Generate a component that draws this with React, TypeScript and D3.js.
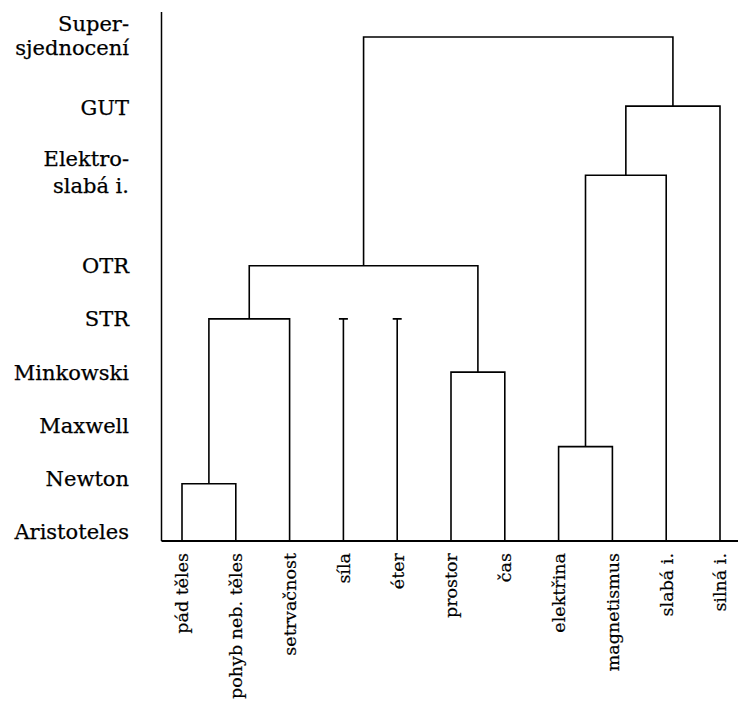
import React from "react";
import * as d3 from "d3";

const leaves = [
  "pád těles",
  "pohyb neb. těles",
  "setrvačnost",
  "síla",
  "éter",
  "prostor",
  "čas",
  "elektřina",
  "magnetismus",
  "slabá i.",
  "silná i.",
];

const levelNames = [
  ["Aristoteles"],
  ["Newton"],
  ["Maxwell"],
  ["Minkowski"],
  ["STR"],
  ["OTR"],
  ["Elektro-", "slabá i."],
  ["GUT"],
  ["Super-", "sjednocení"],
];
const levelValues = [0, 1, 2, 3, 4, 5, 6.76, 7.97, 9.32];

const mergeIds = ["n1", "n2", "n3", "n4", "n5", "n6", "n7", "n8"];
const mergeChildren = [
  ["pád těles", "pohyb neb. těles"],
  ["n1", "setrvačnost"],
  ["prostor", "čas"],
  ["n2", "n3"],
  ["elektřina", "magnetismus"],
  ["n5", "slabá i."],
  ["n6", "silná i."],
  ["n4", "n7"],
];
const mergeHeights = [0.9, 4, 3, 5, 1.6, 6.7, 8, 9.3];

const stemLeaves = ["síla", "éter"];
const stemHeights = [4, 4];

const W = 738;
const H = 706;
const FONT = "'DejaVu Serif', 'Liberation Serif', serif";

export default function App() {
  const x = d3.scalePoint<string>().domain(leaves).range([182, 720]);
  const y = d3.scaleLinear().domain([-0.175, 9.77]).range([541, 12]);

  const nodeX = new Map<string, number>();
  const nodeH = new Map<string, number>();
  leaves.forEach((l) => {
    nodeX.set(l, x(l) as number);
    nodeH.set(l, -0.175);
  });
  mergeIds.forEach((id, i) => {
    const [a, b] = mergeChildren[i];
    nodeX.set(id, ((nodeX.get(a) as number) + (nodeX.get(b) as number)) / 2);
    nodeH.set(id, mergeHeights[i]);
  });

  const paths: string[] = [];
  mergeIds.forEach((id, i) => {
    const [a, b] = mergeChildren[i];
    const h = y(mergeHeights[i]);
    const p = d3.path();
    p.moveTo(nodeX.get(a) as number, y(nodeH.get(a) as number));
    p.lineTo(nodeX.get(a) as number, h);
    p.lineTo(nodeX.get(b) as number, h);
    p.lineTo(nodeX.get(b) as number, y(nodeH.get(b) as number));
    paths.push(p.toString());
  });
  stemLeaves.forEach((l, i) => {
    const cx = x(l) as number;
    const p = d3.path();
    p.moveTo(cx, y(-0.175));
    p.lineTo(cx, y(stemHeights[i]));
    p.moveTo(cx - 4.5, y(stemHeights[i]));
    p.lineTo(cx + 4.5, y(stemHeights[i]));
    paths.push(p.toString());
  });

  const axisX = 161.5;
  const lineHeights = [0, 0, 0, 0, 0, 0, 27, 0, 24];

  return (
    <svg
      width={W}
      height={H}
      style={{ position: "absolute", left: 0, top: 0, background: "#fff" }}
      fontFamily={FONT}
    >
      <rect width={W} height={H} fill="#fff" />
      {/* axes */}
      <line x1={axisX} x2={axisX} y1={y(9.77)} y2={y(-0.175)} stroke="#000" strokeWidth={1.5} />
      <line x1={axisX} x2={W} y1={y(-0.175)} y2={y(-0.175)} stroke="#000" strokeWidth={1.8} />
      {/* y labels */}
      {levelNames.map((lines, i) => {
        const cy = y(levelValues[i]);
        const lh = lineHeights[i];
        const start = cy - ((lines.length - 1) * lh) / 2;
        return (
          <text key={i} textAnchor="end" fontSize={21} fill="#000" stroke="#000" strokeWidth={0.25}>
            {lines.map((t, j) => (
              <tspan key={j} x={129} y={start + j * lh} dy="0.36em">
                {t}
              </tspan>
            ))}
          </text>
        );
      })}
      {/* x labels */}
      {leaves.map((l) => (
        <text
          key={l}
          transform={`translate(${x(l)},553) rotate(-90)`}
          textAnchor="end"
          dy="0.36em"
          fontSize={17.5}
          fill="#000"
          stroke="#000"
          strokeWidth={0.2}
        >
          {l}
        </text>
      ))}
      {/* dendrogram */}
      {paths.map((d, i) => (
        <path key={i} d={d} fill="none" stroke="#000" strokeWidth={1.6} />
      ))}
    </svg>
  );
}
